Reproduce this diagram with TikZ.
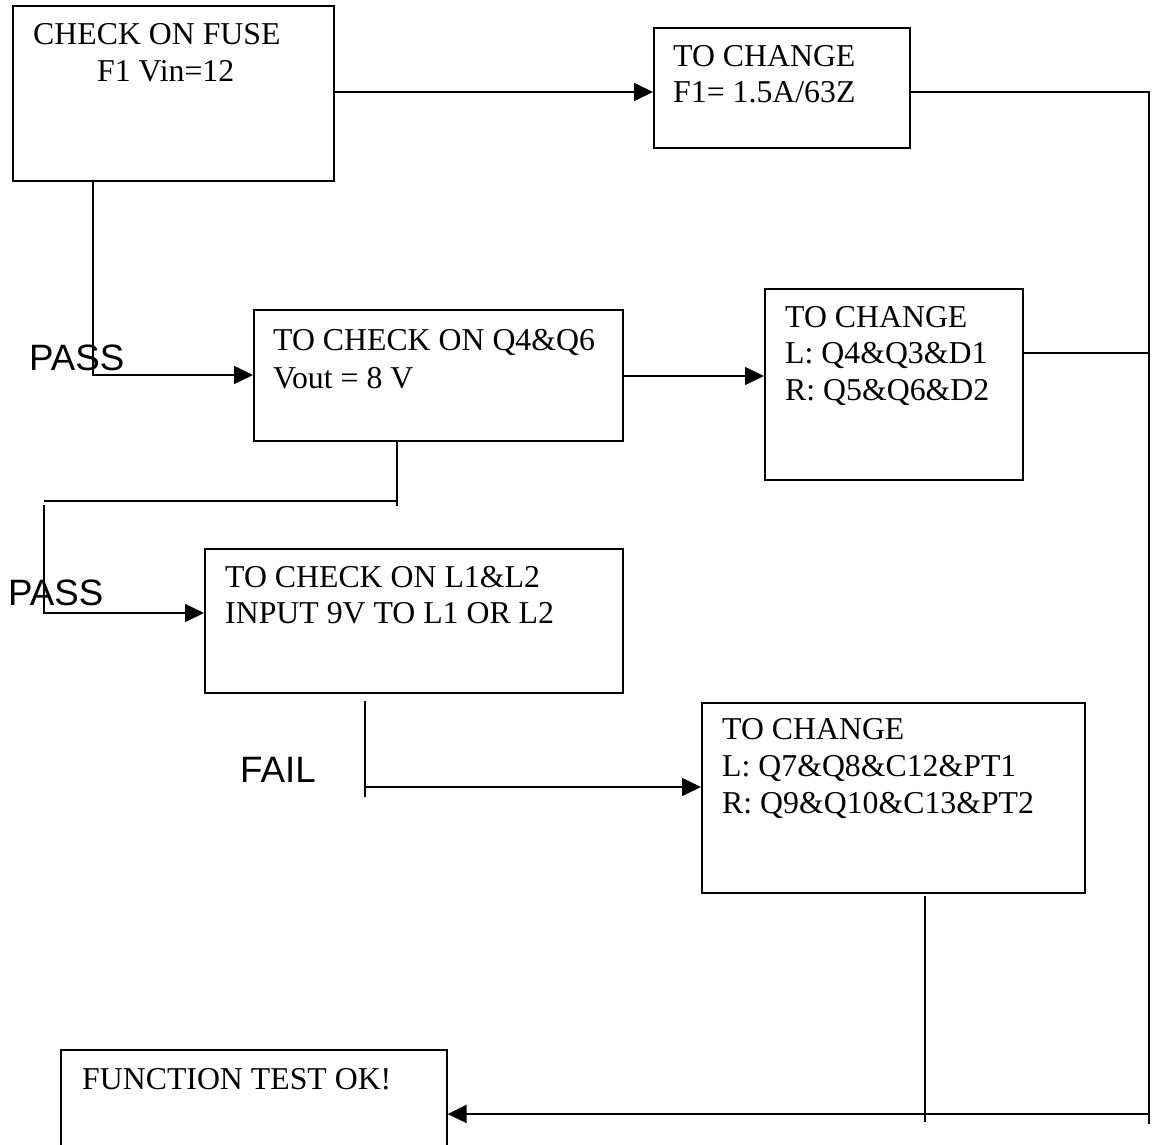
\documentclass[tikz,border=0pt]{standalone}
\usepackage{fontspec}
\setmainfont{Liberation Serif}
\newfontfamily\lsans{Liberation Sans}
\usetikzlibrary{arrows.meta}
\begin{document}
\begin{tikzpicture}[x=1pt,y=-1pt,
  box/.style={draw,line width=1.6pt,inner sep=0pt,anchor=north west},
  txt/.style={anchor=base west,inner sep=0pt,font=\fontsize{31.8}{37}\selectfont},
  lbl/.style={anchor=base west,inner sep=0pt,font=\lsans\fontsize{36.7}{40}\selectfont},
  conn/.style={line width=1.6pt},
  arr/.style={conn,-{Triangle[length=19pt,width=18pt]}}]
\useasboundingbox (0,0) rectangle (1156,1145);
\clip (0,0) rectangle (1156,1145);
% boxes
\node[box,minimum width=321pt,minimum height=175pt] (boxA) at (12,5) {};
\node[box,minimum width=256pt,minimum height=120pt] (boxB) at (653,27) {};
\node[box,minimum width=369pt,minimum height=131pt] (boxC) at (253,309) {};
\node[box,minimum width=258pt,minimum height=191pt] (boxD) at (764,288) {};
\node[box,minimum width=418pt,minimum height=144pt] (boxE) at (204,548) {};
\node[box,minimum width=383pt,minimum height=190pt] (boxF) at (701,702) {};
\node[box,minimum width=386pt,minimum height=120pt] (boxG) at (60,1049) {};
% texts
\node[txt] (a1) at (33,45) {CHECK ON FUSE};
\node[txt] (a2) at (97,82) {F1 Vin=12};
\node[txt] (b1) at (673,67) {TO CHANGE};
\node[txt] (b2) at (673,103) {F1= 1.5A/63Z};
\node[txt] (c1) at (273,350) {TO CHECK ON Q4\&Q6};
\node[txt] (c2) at (273,388) {Vout = 8 V};
\node[txt] (d1) at (785,327) {TO CHANGE};
\node[txt] (d2) at (785,363) {L: Q4\&Q3\&D1};
\node[txt] (d3) at (785,400) {R: Q5\&Q6\&D2};
\node[txt] (e1) at (225,587) {TO CHECK ON L1\&L2};
\node[txt] (e2) at (225,623) {INPUT 9V TO L1 OR L2};
\node[txt] (f1) at (722,739) {TO CHANGE};
\node[txt] (f2) at (722,776) {L: Q7\&Q8\&C12\&PT1};
\node[txt] (f3) at (722,813) {R: Q9\&Q10\&C13\&PT2};
\node[txt] (g1) at (82,1089) {FUNCTION TEST OK!};
\node[lbl] (pass1) at (29,370) {PASS};
\node[lbl] (pass2) at (8,605) {PASS};
\node[lbl] (fail) at (240,782) {FAIL};
% connectors
\coordinate (ytop) at (0,92);
\draw[arr] (boxA.east |- ytop) -- (boxB.west |- ytop);
\coordinate (R1) at (1149,92);
\coordinate (R2) at (1149,1124);
\draw[conn] (boxB.east |- R1) -- (R1) -- (R2);
\coordinate (ybot) at (0,1114);
\draw[arr] (R2 |- ybot) -- (boxG.east |- ybot);
\coordinate (yd) at (0,353);
\draw[conn] (boxD.east |- yd) -- (R1 |- yd);
\coordinate (P1) at (93,375);
\draw[arr] (boxA.south -| P1) -- (P1) -- (boxC.west |- P1);
\coordinate (yc) at (0,376);
\draw[arr] (boxC.east |- yc) -- (boxD.west |- yc);
\coordinate (Q1) at (397,506);
\draw[conn] (boxC.south -| Q1) -- (Q1);
\coordinate (Q2) at (44,501);
\draw[conn] (Q2) -- (Q1 |- Q2);
\coordinate (Q3) at (44,505);
\coordinate (Q4) at (44,613);
\draw[arr] (Q3) -- (Q4) -- (boxE.west |- Q4);
\coordinate (S1) at (365,701);
\coordinate (S2) at (365,797);
\draw[conn] (S1) -- (S2);
\coordinate (S3) at (365,787);
\draw[arr] (S3) -- (boxF.west |- S3);
\coordinate (V0) at (925,896);
\coordinate (V1) at (925,1122);
\draw[conn] (V0) -- (V1);
\end{tikzpicture}
\end{document}
